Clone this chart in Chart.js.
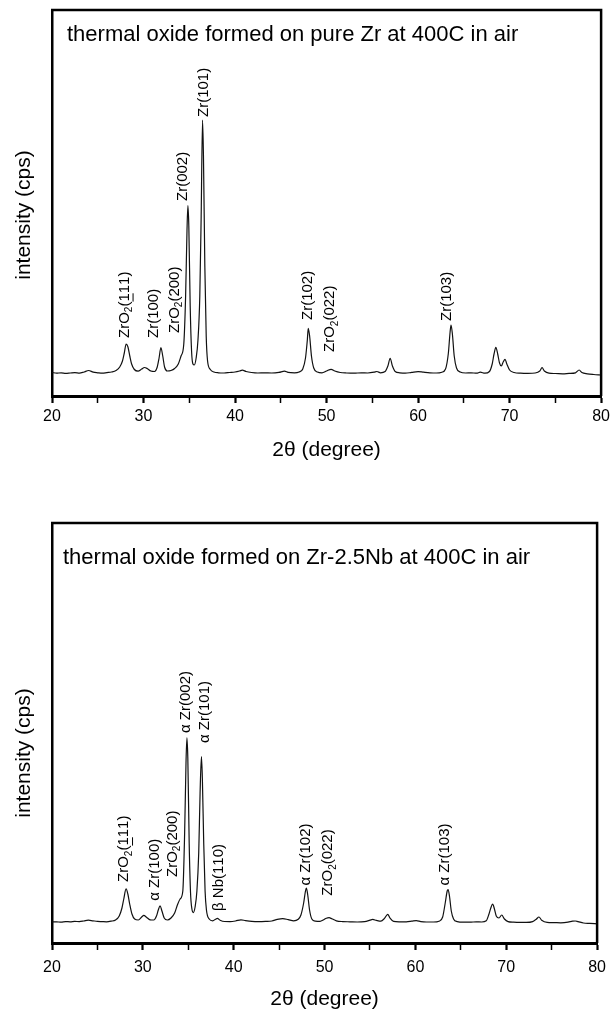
<!DOCTYPE html>
<html>
<head>
<meta charset="utf-8">
<script src="https://cdn.jsdelivr.net/npm/chart.js@4.4.0/dist/chart.umd.min.js"></script>
<style>
  body { margin: 0; background: #fff; overflow: hidden; }
  canvas { position: absolute; left: 0; }
  #topChart { top: 0; }
  #bottomChart { top: 467px; }
</style>
</head>
<body>
<canvas id="topChart" width="614" height="467"></canvas>
<canvas id="bottomChart" width="614" height="545"></canvas>
<script>
// XRD scans: [2theta, intensity (arb. cps)]
var topScan = [
  [20.0,235],[20.5,228],[21.0,232],[21.5,226],[22.0,230],[22.5,234],[23.0,228],[23.5,240],
  [24.0,255],[24.5,238],[25.0,232],[25.5,228],[26.0,234],[26.5,240],[27.0,255],[27.4,290],
  [27.7,350],[27.9,430],[28.1,520],[28.3,490],[28.5,400],[28.7,320],[29.0,265],[29.4,248],
  [29.8,270],[30.1,285],[30.4,275],[30.8,250],[31.2,245],[31.5,290],[31.7,380],[31.9,485],
  [32.1,400],[32.3,290],[32.6,250],[33.0,255],[33.4,275],[33.8,320],[34.1,400],[34.4,520],
  [34.6,1000],[34.75,1650],[34.85,1903],[34.95,1700],[35.1,900],[35.25,450],[35.4,320],
  [35.55,310],[35.75,380],[35.95,560],[36.15,1000],[36.3,1800],[36.45,2760],[36.55,2400],
  [36.7,1300],[36.85,600],[37.0,350],[37.3,265],[37.7,240],[38.2,232],[38.8,230],[39.4,235],
  [40.0,240],[40.5,250],[40.8,258],[41.2,245],[41.8,235],[42.5,230],[43.2,232],[44.0,230],
  [44.8,236],[45.4,248],[45.8,236],[46.5,232],[47.0,240],[47.4,270],[47.7,380],[47.9,560],
  [48.0,677],[48.15,600],[48.35,400],[48.6,280],[49.0,240],[49.5,232],[50.0,250],[50.5,267],
  [50.9,250],[51.5,235],[52.2,230],[53.0,228],[53.8,232],[54.5,230],[55.2,238],[55.5,245],
  [55.9,232],[56.4,245],[56.7,300],[56.95,377],[57.2,300],[57.5,245],[58.0,232],[58.6,228],
  [59.3,236],[60.0,244],[60.6,238],[61.3,232],[62.0,230],[62.6,238],[63.0,270],[63.3,420],
  [63.5,640],[63.6,710],[63.75,620],[63.95,400],[64.2,280],[64.6,240],[65.2,230],[65.8,232],
  [66.4,228],[66.8,238],[67.3,228],[67.8,245],[68.1,320],[68.3,420],[68.5,487],[68.7,420],
  [68.9,330],[69.1,300],[69.3,340],[69.5,367],[69.7,320],[70.0,260],[70.5,235],[71.2,228],
  [72.0,226],[72.8,230],[73.3,250],[73.55,283],[73.8,250],[74.3,228],[75.0,225],[75.8,222],
  [76.5,226],[77.2,232],[77.6,260],[77.9,235],[78.5,222],[79.2,215],[80.0,210]
];

var bottomScan = [
  [20.0,210],[20.5,212],[21.0,208],[21.5,214],[22.0,212],[22.5,216],[23.0,214],[23.5,220],
  [24.0,228],[24.5,222],[25.0,216],[25.5,214],[26.0,212],[26.5,218],[27.0,230],[27.4,270],
  [27.7,350],[27.9,440],[28.15,541],[28.35,490],[28.55,390],[28.8,290],[29.1,240],[29.5,230],
  [29.9,262],[30.1,276],[30.4,258],[30.8,232],[31.2,230],[31.5,270],[31.7,330],[31.9,371],
  [32.1,320],[32.35,250],[32.7,230],[33.1,250],[33.5,300],[33.8,380],[34.1,440],[34.4,520],
  [34.6,1100],[34.75,1800],[34.85,2051],[34.95,1850],[35.1,1000],[35.25,500],[35.4,340],
  [35.55,304],[35.75,360],[35.95,520],[36.15,900],[36.3,1500],[36.45,1864],[36.55,1650],
  [36.7,1000],[36.85,520],[37.0,330],[37.3,240],[37.7,222],[38.0,238],[38.2,246],[38.5,228],
  [39.0,215],[39.6,214],[40.2,220],[40.8,232],[41.3,224],[42.0,216],[42.8,214],[43.5,216],
  [44.2,220],[44.8,236],[45.4,244],[46.0,234],[46.6,222],[47.1,238],[47.4,280],[47.7,400],
  [47.9,520],[48.0,548],[48.15,480],[48.35,330],[48.6,240],[49.0,218],[49.5,216],[49.9,232],
  [50.2,248],[50.5,253],[50.8,242],[51.3,222],[52.0,214],[52.8,212],[53.6,210],[54.4,214],
  [55.0,228],[55.3,236],[55.7,226],[56.2,218],[56.6,246],[56.95,287],[57.2,250],[57.6,216],
  [58.2,212],[59.0,212],[59.6,218],[60.1,224],[60.6,214],[61.2,210],[62.0,210],[62.6,218],
  [63.0,260],[63.3,410],[63.5,520],[63.6,534],[63.75,470],[63.95,320],[64.2,240],[64.6,214],
  [65.3,208],[66.0,208],[66.7,212],[67.3,210],[67.8,222],[68.1,290],[68.3,350],[68.5,388],
  [68.7,340],[68.9,270],[69.2,250],[69.5,280],[69.8,240],[70.2,214],[70.8,208],[71.5,206],
  [72.2,206],[72.9,214],[73.3,238],[73.6,260],[73.9,228],[74.5,206],[75.2,204],[76.0,202],
  [76.8,208],[77.3,218],[77.6,220],[77.9,214],[78.5,200],[79.2,196],[80.0,192]
];

// peak labels ( _ = subscript next char, ~ = bar under next char )
var topLabels = ['ZrO_2(~111)', 'Zr(100)', 'ZrO_2(200)', 'Zr(002)', 'Zr(101)', 'Zr(102)', 'ZrO_2(022)', 'Zr(103)'];
var topLabelTheta = [27.95, 31.14, 33.40, 34.32, 36.55, 47.93, 50.38, 63.15];
var topLabelBase = [580, 580, 630, 1950, 2790, 760, 440, 750];

var bottomLabels = ['ZrO_2(~111)', 'α Zr(100)', 'ZrO_2(200)', 'α Zr(002)', 'α Zr(101)', 'β Nb(110)', 'α Zr(102)', 'ZrO_2(022)', 'α Zr(103)'];
var bottomLabelTheta = [27.95, 31.36, 33.27, 34.76, 36.8, 38.37, 47.93, 50.38, 63.29];
var bottomLabelBase = [610, 422, 660, 2100, 2000, 320, 575, 473, 575];

var xTickLabels = [20, 30, 40, 50, 60, 70, 80];

var FONT = "'Liberation Sans', Arial, Helvetica, sans-serif";

function drawRich(ctx, text, size) {
  var x = 0, base = ctx.font;
  for (var i = 0; i < text.length; i++) {
    var ch = text[i];
    if (ch === '_') {
      var s = text[++i];
      ctx.font = Math.round(size * 0.65) + 'px ' + FONT;
      ctx.fillText(s, x, size * 0.32);
      x += ctx.measureText(s).width;
      ctx.font = base;
    } else if (ch === '~') {
      var u = text[++i];
      var w = ctx.measureText(u).width;
      ctx.fillText(u, x, 0);
      ctx.fillRect(x, size * 0.52, w, 1);
      x += w;
    } else {
      ctx.fillText(ch, x, 0);
      x += ctx.measureText(ch).width;
    }
  }
}

var panelText = {
  id: 'panelText',
  afterDatasetsDraw: function(chart, args, opts) {
    var ctx = chart.ctx, area = chart.chartArea;
    var xs = chart.scales.x, ys = chart.scales.y;
    ctx.save();
    // top and right sides of the frame
    ctx.strokeStyle = '#000';
    ctx.lineWidth = 2.5;
    ctx.beginPath();
    ctx.moveTo(area.left - 1, area.top);
    ctx.lineTo(area.right, area.top);
    ctx.lineTo(area.right, area.bottom);
    ctx.stroke();

    ctx.fillStyle = '#000';
    ctx.textAlign = 'left';
    ctx.textBaseline = 'middle';
    ctx.font = '22px ' + FONT;
    ctx.fillText(opts.title, area.left + opts.titleDx, area.top + opts.titleDy);

    ctx.font = '15px ' + FONT;
    for (var i = 0; i < opts.labels.length; i++) {
      ctx.save();
      ctx.translate(xs.getPixelForValue(opts.theta[i]), ys.getPixelForValue(opts.base[i]));
      ctx.rotate(-Math.PI / 2);
      drawRich(ctx, opts.labels[i], 15);
      ctx.restore();
    }

    ctx.font = '21px ' + FONT;
    ctx.textAlign = 'center';
    ctx.translate(24, (area.top + area.bottom) / 2 + opts.yTitleDy);
    ctx.rotate(-Math.PI / 2);
    ctx.fillText('intensity (cps)', 0, 0);
    ctx.restore();
  }
};

function makePanel(id, scan, labels, theta, base, cfg) {
  return new Chart(document.getElementById(id), {
    type: 'line',
    data: {
      datasets: [{
        data: scan.map(function(p) { return { x: p[0], y: p[1] }; }),
        borderColor: '#111',
        borderWidth: 1.2,
        pointRadius: 0,
        cubicInterpolationMode: 'monotone',
        fill: false
      }]
    },
    options: {
      responsive: false,
      animation: false,
      events: [],
      layout: { padding: { top: cfg.padTop, right: 9, left: 0, bottom: 0 } },
      plugins: {
        legend: { display: false },
        tooltip: { enabled: false },
        panelText: {
          title: cfg.title, titleDx: cfg.titleDx, titleDy: cfg.titleDy, yTitleDy: cfg.yTitleDy,
          labels: labels, theta: theta, base: base
        }
      },
      scales: {
        x: {
          type: 'linear', min: 20, max: 80,
          ticks: {
            stepSize: 5, autoSkip: false, maxRotation: 0, padding: cfg.tickPad, color: '#000',
            font: { size: 16, family: FONT },
            callback: function(v) { return xTickLabels.indexOf(v) >= 0 ? String(v) : ''; }
          },
          grid: {
            drawOnChartArea: false, drawTicks: true, tickLength: 7, tickColor: '#000',
            tickWidth: function(c) { return c.tick && c.tick.value % 10 === 0 ? 2.2 : 1.5; }
          },
          border: { display: true, color: '#000', width: 3 },
          title: {
            display: true, text: '2θ (degree)', color: '#000',
            font: { size: 21, family: FONT }, padding: { top: 0, bottom: cfg.titlePad }
          },
          afterFit: function(s) { s.height = cfg.xAxisH; }
        },
        y: {
          min: 0, max: cfg.yMax,
          ticks: { display: false },
          grid: { display: false, drawTicks: false },
          border: { display: true, color: '#000', width: 2.5 },
          afterFit: function(s) { s.width = 52; }
        }
      }
    },
    plugins: [panelText]
  });
}

makePanel('topChart', topScan, topLabels, topLabelTheta, topLabelBase, {
  title: 'thermal oxide formed on pure Zr at 400C in air',
  padTop: 10, xAxisH: 71, yMax: 3860, tickPad: 4, titlePad: 4,
  titleDx: 15, titleDy: 25, yTitleDy: 12
});

makePanel('bottomChart', bottomScan, bottomLabels, bottomLabelTheta, bottomLabelBase, {
  title: 'thermal oxide formed on Zr-2.5Nb at 400C in air',
  padTop: 56, xAxisH: 69, yMax: 4200, tickPad: 8, titlePad: 0,
  titleDx: 11, titleDy: 35, yTitleDy: 20
});
</script>
</body>
</html>
